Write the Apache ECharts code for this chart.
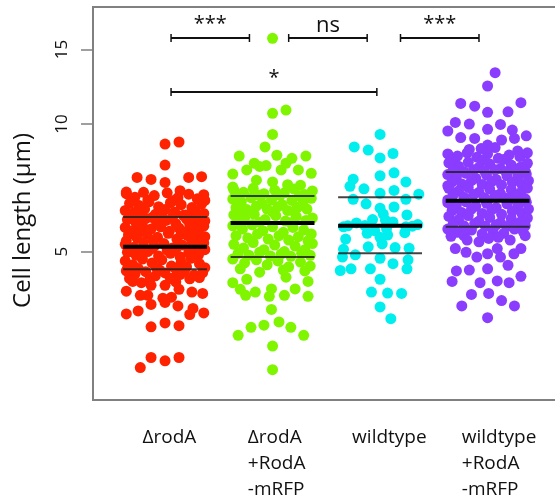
<!DOCTYPE html>
<html><head><meta charset="utf-8">
<script src="https://cdn.jsdelivr.net/npm/echarts@6/dist/echarts.min.js"></script>
<style>html,body{margin:0;padding:0;background:#fff}#c{width:555px;height:500px}</style>
</head><body><div id="c"></div>
<script>
// ---- data: [x-jitter, cell length µm] ----
const categories = ['ΔrodA', 'ΔrodA\n+RodA\n-mRFP', 'wildtype', 'wildtype\n+RodA\n-mRFP'];
const yTicks = [5, 10, 15];
const colors = ['#ff2200', '#80f500', '#00eeee', '#8a3cff'];

const deltaRodA = [
[0.00,8.97],[0.13,9.07],[0.00,8.00],[-0.26,7.48],[-0.13,7.40],[0.00,7.28],[0.22,7.48],[0.34,7.51],[-0.36,6.91],[0.14,6.96],[0.36,6.81],
[-0.36,6.85],[-0.28,6.72],[-0.2,6.9],[-0.1,6.78],[0.02,6.88],[0.12,6.7],[0.22,6.83],[0.3,6.66],[0.37,6.6],
[-0.33,6.5],[-0.24,6.42],[-0.15,6.55],[-0.06,6.38],[0.05,6.52],[0.15,6.45],[0.25,6.35],[0.34,6.48],
[-0.37,6.25],[-0.29,6.18],[-0.19,6.3],[-0.09,6.12],[0.0,6.28],[0.09,6.2],[0.19,6.1],[0.28,6.22],[0.36,6.15],
[-0.32,6.05],[-0.22,6.08],[-0.12,6.02],[-0.03,6.06],[0.07,6.04],[0.17,6.09],[0.26,6.03],[0.33,6.07],[-0.16,6.62],[0.08,6.6],
[-0.35,5.95],[-0.27,5.85],[-0.18,5.98],[-0.08,5.88],[0.01,5.92],[0.1,5.82],[0.2,5.96],[0.29,5.87],[0.37,5.9],
[-0.37,5.7],[-0.3,5.6],[-0.21,5.75],[-0.13,5.65],[-0.04,5.72],[0.04,5.58],[0.13,5.68],[0.23,5.78],[0.31,5.62],[0.36,5.74],[-0.25,5.55],[0.18,5.56],
[-0.34,5.48],[-0.26,5.38],[-0.17,5.5],[-0.07,5.4],[0.03,5.52],[0.11,5.35],[0.21,5.45],[0.3,5.33],[0.37,5.42],[-0.36,5.3],[-0.11,5.32],[0.15,5.5],[0.26,5.52],
[-0.37,5.2],[-0.29,5.12],[-0.2,5.25],[-0.1,5.15],[-0.01,5.22],[0.07,5.1],[0.16,5.18],[0.25,5.27],[0.33,5.14],[-0.23,5.05],[0.02,5.04],[0.28,5.02],[0.36,5.24],
[-0.35,4.98],[-0.27,4.9],[-0.16,5.0],[-0.06,4.88],[0.05,4.95],[0.14,4.86],[0.22,4.97],[0.31,4.9],[0.37,5.05],[-0.12,5.08],[0.1,5.07],
[-0.37,4.75],[-0.3,4.65],[-0.21,4.8],[-0.12,4.7],[-0.03,4.78],[0.06,4.62],[0.15,4.72],[0.24,4.82],[0.32,4.68],[0.37,4.58],[-0.25,4.56],[-0.08,4.58],[0.1,4.55],[0.2,4.6],[-0.35,4.55],
[-0.36,4.5],[-0.28,4.42],[-0.18,4.48],[-0.09,4.38],[0.0,4.45],[0.09,4.35],[0.18,4.5],[0.27,4.4],[0.35,4.46],[-0.33,4.32],[-0.14,4.3],[0.05,4.32],[0.23,4.31],[-0.05,4.52],[0.14,4.41],
[-0.30,4.25],[-0.22,4.22],[0.32,4.34],[-0.36,4.03],[-0.23,3.94],[-0.13,4.16],[0.00,4.16],[0.10,4.24],[0.13,4.07],[-0.16,3.94],[-0.02,3.88],[0.06,3.90],[0.25,4.01],[0.35,3.98],
[-0.13,3.75],[0.00,3.79],[0.12,3.72],[0.26,3.67],[-0.36,3.56],[-0.25,3.62],[0.23,3.55],[0.36,3.58],
[-0.13,3.32],[0.00,3.39],[0.13,3.34],[-0.13,2.81],[0.00,2.76],[0.13,2.81],[-0.23,2.66]
];

const deltaRodAcomp = [
[0.00,15.94],[0.00,10.6],[0.125,10.79],[0.00,9.45],[-0.07,8.83],[-0.31,8.40],[0.04,8.44],[0.31,8.40],[0.18,8.30],[-0.17,8.08],[0.125,8.08],[-0.06,7.98],
[-0.37,7.62],[-0.24,7.79],[-0.12,7.94],[0.08,7.79],[0.24,7.79],[0.36,7.65],[0.00,7.30],[0.14,7.19],[-0.37,7.10],[-0.15,7.37],[0.26,7.17],
[-0.36,7.0],[-0.27,6.9],[-0.18,7.05],[-0.08,6.85],[0.02,6.98],[0.11,6.88],[0.2,7.02],[0.3,6.82],[0.37,6.95],[-0.32,6.78],[-0.13,6.8],[0.07,6.79],[0.25,6.77],
[-0.37,6.65],[-0.29,6.55],[-0.2,6.7],[-0.1,6.5],[-0.01,6.62],[0.09,6.45],[0.18,6.6],[0.28,6.5],[0.36,6.68],[-0.34,6.35],[-0.24,6.28],[-0.15,6.4],[-0.05,6.3],[0.05,6.38],[0.14,6.25],[0.23,6.35],[0.32,6.3],[-0.3,6.2],[0.0,6.2],[0.2,6.22],
[-0.36,6.1],[-0.26,6.0],[-0.17,6.12],[-0.07,5.95],[0.03,6.08],[0.12,5.9],[0.22,6.05],[0.31,5.92],[0.37,6.0],[-0.33,5.88],[-0.12,5.86],[0.17,5.85],
[-0.37,5.75],[-0.28,5.65],[-0.19,5.78],[-0.09,5.6],[0.0,5.72],[0.1,5.55],[0.19,5.7],[0.29,5.62],[0.36,5.5],[-0.34,5.45],[-0.23,5.38],[-0.14,5.5],[-0.04,5.35],[0.06,5.45],[0.15,5.32],[0.24,5.42],[0.33,5.3],
[-0.36,5.2],[-0.27,5.1],[-0.18,5.25],[-0.08,5.05],[0.02,5.18],[0.11,5.0],[0.21,5.15],[0.3,5.05],[0.37,5.22],[-0.32,4.95],[-0.22,4.9],[-0.12,4.98],[-0.02,4.88],[0.08,4.93],[0.17,4.87],[0.27,4.95],[0.35,4.9],
[-0.37,4.8],[-0.26,4.7],[-0.15,4.78],[-0.05,4.65],[0.05,4.75],[0.15,4.6],[0.26,4.72],[0.35,4.62],[-0.3,4.55],[0.1,4.52],[0.3,4.5],
[-0.37,4.22],[-0.24,4.30],[-0.30,4.07],[-0.16,4.01],[-0.25,3.94],[-0.01,4.08],[-0.03,3.92],[0.11,3.94],[0.21,4.08],[0.33,3.92],[0.33,4.25],[0.125,4.35],[-0.12,4.47],
[-0.01,3.65],[-0.2,3.31],[-0.08,3.35],[0.06,3.41],[0.17,3.31],[-0.32,3.17],[0.29,3.17],[0.00,2.99],[0.00,2.63]
];

const wildtype = [
[0.00,9.45],[-0.24,8.83],[-0.11,8.68],[0.00,8.32],[0.12,8.52],[-0.25,7.41],[-0.28,7.13],[-0.15,7.03],[0.00,7.55],[0.13,7.67],[0.24,7.30],
[0.00,6.86],[0.13,6.97],[0.36,6.83],[-0.25,6.64],[0.24,6.64],[-0.13,6.48],[0.00,6.33],[0.13,6.37],[0.25,6.10],[0.03,6.13],[-0.07,5.95],[0.05,5.93],
[-0.34,5.72],[-0.22,5.84],[0.12,5.87],[0.24,5.72],[0.35,5.79],[-0.12,5.52],[0.00,5.40],[0.07,5.47],[0.23,5.54],[-0.32,5.35],
[-0.11,5.13],[0.02,5.21],[0.14,5.11],[0.27,5.09],[-0.34,5.06],[-0.23,4.91],[-0.35,4.85],[0.00,4.82],[0.26,4.78],[0.12,4.68],
[-0.37,4.51],[-0.27,4.55],[-0.09,4.55],[0.25,4.55],[0.00,4.30],[-0.08,4.01],[0.07,3.99],[0.20,3.98],[0.00,3.70],[0.10,3.47],
[-0.30,5.75],[-0.14,5.76],[0.30,5.74],[-0.05,5.60],[0.06,5.66]
];

const wildtypeComp = [
[0.07,13.22],[0.00,12.30],[-0.25,11.19],[-0.12,11.02],[0.00,10.66],[0.19,10.69],[0.31,11.23],[-0.30,10.09],[-0.17,10.0],[0.12,9.98],
[-0.37,9.63],[-0.25,9.29],[-0.12,9.25],[0.00,9.72],[0.23,9.68],[0.36,9.38],[0.25,9.25],[0.13,9.17],[0.00,8.92],[-0.17,8.71],[-0.06,8.75],[0.07,8.80],[0.28,8.64],
[-0.37,8.5],[-0.28,8.4],[-0.19,8.55],[-0.1,8.35],[0.0,8.5],[0.1,8.3],[0.2,8.45],[0.3,8.38],[0.37,8.55],[-0.33,8.22],[-0.05,8.2],[0.15,8.25],
[-0.36,8.1],[-0.27,7.95],[-0.18,8.12],[-0.08,7.9],[0.02,8.05],[0.12,7.85],[0.22,8.0],[0.31,7.92],[0.37,8.08],[-0.32,7.78],[-0.22,7.72],[-0.13,7.8],[-0.03,7.75],[0.07,7.8],[0.17,7.72],[0.26,7.78],[0.35,7.74],
[-0.37,7.6],[-0.29,7.5],[-0.2,7.65],[-0.11,7.45],[-0.01,7.58],[0.08,7.4],[0.18,7.55],[0.28,7.48],[0.36,7.62],[-0.33,7.3],[-0.24,7.22],[-0.15,7.35],[-0.05,7.2],[0.04,7.32],[0.13,7.18],[0.23,7.28],[0.32,7.2],[-0.37,7.15],[0.38,7.35],
[-0.36,7.05],[-0.27,6.95],[-0.18,7.08],[-0.08,6.9],[0.02,7.02],[0.12,6.85],[0.22,7.0],[0.31,6.9],[0.37,7.06],[-0.32,6.8],[-0.22,6.72],[-0.13,6.82],[-0.03,6.7],[0.07,6.78],[0.17,6.68],[0.26,6.76],[0.35,6.66],[-0.37,6.62],[0.0,6.6],[0.2,6.61],
[-0.37,6.52],[-0.29,6.45],[-0.2,6.55],[-0.11,6.4],[-0.01,6.5],[0.08,6.35],[0.18,6.48],[0.28,6.4],[0.36,6.54],[-0.33,6.25],[-0.24,6.18],[-0.15,6.3],[-0.05,6.15],[0.04,6.28],[0.13,6.12],[0.23,6.22],[0.32,6.15],[0.38,6.3],
[-0.36,6.05],[-0.27,5.95],[-0.18,6.08],[-0.08,5.9],[0.02,6.02],[0.12,5.85],[0.22,5.98],[0.31,5.88],[0.37,6.0],[-0.32,5.8],[-0.22,5.75],[-0.12,5.82],[-0.02,5.74],[0.08,5.78],[0.18,5.73],[0.27,5.8],[0.35,5.76],
[-0.37,5.65],[-0.28,5.55],[-0.15,5.62],[-0.05,5.5],[0.05,5.6],[0.15,5.52],[0.25,5.65],[0.33,5.58],[-0.22,5.45],[0.1,5.4],
[-0.34,5.43],[-0.30,5.08],[-0.19,5.32],[-0.08,5.27],[-0.10,4.85],[0.09,5.08],[0.21,5.32],[0.31,5.08],[0.35,5.45],[0.01,5.37],[0.12,4.85],[0.245,4.94],[-0.20,4.98],[0.00,4.94],
[-0.29,4.50],[-0.17,4.52],[0.00,4.55],[0.19,4.64],[-0.33,4.25],[-0.07,4.22],[0.09,4.26],[0.20,4.22],[0.31,4.37],
[-0.15,3.96],[0.01,3.98],[0.13,3.83],[-0.24,3.72],[0.25,3.72],[0.00,3.49]
];

// summary lines
const medians   = [5.13, 5.84, 5.75, 6.59];
const quartLow  = [4.54, 4.85, 4.95, 5.72];
const quartHigh = [6.03, 6.76, 6.72, 7.70];

// significance brackets: [from x, to x, y value, label]
const brackets = [
  [1.056, 1.785, 15.97, '***'],
  [2.15, 2.88, 15.97, 'ns'],
  [3.19, 3.92, 15.97, '***'],
  [1.056, 2.97, 11.9, '*']
];
const labelShift = [-0.21, -0.23, -0.26, -0.24];

const groups = [deltaRodA, deltaRodAcomp, wildtype, wildtypeComp];

const chart = echarts.init(document.getElementById('c'), null, {renderer: 'canvas'});

const scatterSeries = groups.map((g, gi) => ({
  type: 'scatter',
  symbol: 'circle',
  symbolSize: 11,
  itemStyle: {color: colors[gi], opacity: 1},
  emphasis: {disabled: true},
  data: g.map(p => [gi + 1 + p[0], p[1]]),
  z: 2
}));

const lineData = [];
medians.forEach((m, i) => {
  lineData.push([i + 1, quartLow[i], 0]);
  lineData.push([i + 1, quartHigh[i], 0]);
  lineData.push([i + 1, m, 1]);
});

const statSeries = {
  type: 'custom',
  z: 5,
  data: lineData,
  renderItem: function (params, api) {
    const x = api.value(0), y = api.value(1), isMed = api.value(2);
    const a = api.coord([x - 0.39, y]);
    const b = api.coord([x + 0.39, y]);
    return {
      type: 'line',
      shape: {x1: a[0], y1: a[1], x2: b[0], y2: b[1]},
      style: {stroke: isMed ? '#000' : '#222', lineWidth: isMed ? 4 : 2, opacity: isMed ? 1 : 0.85}
    };
  }
};

const bracketSeries = {
  type: 'custom',
  z: 6,
  clip: false,
  data: brackets.map(b => [b[0], b[1], b[2]]),
  renderItem: function (params, api) {
    const b = brackets[params.dataIndex];
    const p1 = api.coord([api.value(0), api.value(2)]);
    const p2 = api.coord([api.value(1), api.value(2)]);
    const isNs = b[3] === 'ns';
    return {
      type: 'group',
      children: [
        {type: 'line', shape: {x1: p1[0], y1: p1[1], x2: p2[0], y2: p2[1]}, style: {stroke: '#111', lineWidth: 2}},
        {type: 'line', shape: {x1: p1[0], y1: p1[1] - 4, x2: p1[0], y2: p1[1] + 4}, style: {stroke: '#111', lineWidth: 1.5}},
        {type: 'line', shape: {x1: p2[0], y1: p2[1] - 4, x2: p2[0], y2: p2[1] + 4}, style: {stroke: '#111', lineWidth: 1.5}},
        {type: 'text', style: {text: b[3], x: (p1[0] + p2[0]) / 2, y: p1[1] - (isNs ? 12 : 14),
          align: 'center', verticalAlign: 'middle', fill: '#111',
          font: (isNs ? '22px' : '20px') + ' "Open Sans", sans-serif'}}
      ]
    };
  }
};

chart.setOption({
  animation: false,
  backgroundColor: '#fff',
  grid: {left: 93, top: 7, right: -10, bottom: 100, show: true, borderColor: '#808080', borderWidth: 2,
         containLabel: false, outerBoundsMode: 'none'},
  xAxis: {
    type: 'value', min: 0.33, max: 4.72,
    splitLine: {show: false},
    axisLine: {show: false},
    axisTick: {show: false},
    axisLabel: {
      customValues: labelShift.map((s, i) => i + 1 + s),
      formatter: v => categories[Math.round(v) - 1],
      align: 'left', verticalAlign: 'top', margin: 25,
      lineHeight: 26, fontSize: 19, color: '#111', fontFamily: '"Open Sans", sans-serif'
    }
  },
  yAxis: {
    type: 'log', logBase: 10, min: 2.23, max: 18.9,
    name: 'Cell length (µm)', nameLocation: 'middle', nameGap: 58,
    nameTextStyle: {fontSize: 24, color: '#111', fontFamily: '"Open Sans", sans-serif', padding: [0, 34, 0, 0]},
    splitLine: {show: false},
    axisLine: {show: true, lineStyle: {color: '#808080', width: 2}},
    axisTick: {show: true, customValues: yTicks, length: 12, lineStyle: {color: '#808080', width: 1.5}},
    axisLabel: {customValues: yTicks, rotate: 90, margin: 22, fontSize: 17, color: '#111', fontFamily: '"Open Sans", sans-serif'}
  },
  series: scatterSeries.concat([statSeries, bracketSeries])
});
</script></body></html>
